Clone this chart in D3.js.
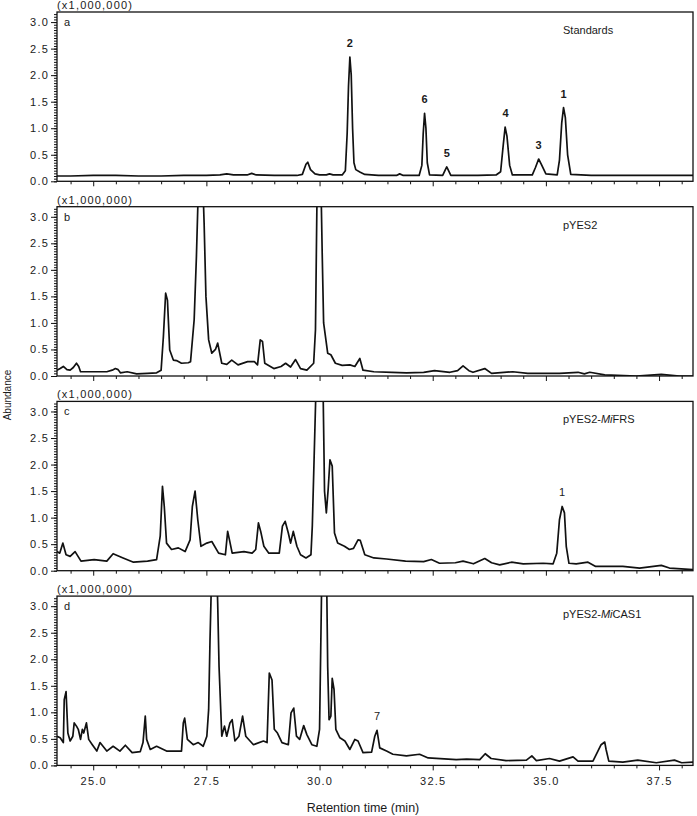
<!DOCTYPE html>
<html>
<head>
<meta charset="utf-8">
<script src="https://cdn.jsdelivr.net/npm/d3@7"></script>
<style>
  body { margin: 0; background: #fff; }
  svg text { font-family: "Liberation Sans", Arial, sans-serif; fill: #1a1a1a; }
  .tick line { stroke: #111; }
  .num text, text.num { letter-spacing: 1.2px; }
</style>
</head>
<body>
<div id="chart"></div>
<script>
// retention time (min) / abundance (x1,000,000)
var timeA = [24.2, 24.5, 25.0, 25.5, 26.0, 26.5, 27.0, 27.5, 27.8, 27.95, 28.1, 28.4, 28.5, 28.6, 29.0, 29.5,
  29.62, 29.7, 29.74, 29.8, 29.9, 30.0, 30.15, 30.22, 30.3, 30.5, 30.57, 30.61, 30.64, 30.67, 30.7, 30.73,
  30.76, 30.8, 30.9, 31.0, 31.3, 31.7, 31.77, 31.85, 32.2, 32.26, 32.29, 32.32, 32.35, 32.38, 32.43, 32.72,
  32.78, 32.81, 32.85, 32.9, 33.5, 33.9, 34.0, 34.06, 34.1, 34.14, 34.2, 34.26, 34.7, 34.77, 34.84, 34.9,
  35.0, 35.25, 35.3, 35.35, 35.39, 35.43, 35.48, 35.55, 36.0, 36.5, 37.0, 37.5, 38.0, 38.25];
var valueA = [0.10, 0.10, 0.11, 0.11, 0.10, 0.10, 0.11, 0.11, 0.12, 0.14, 0.12, 0.12, 0.15, 0.12, 0.11, 0.11,
  0.13, 0.32, 0.36, 0.22, 0.14, 0.12, 0.12, 0.14, 0.12, 0.12, 0.20, 0.90, 1.80, 2.34, 2.00, 1.00,
  0.35, 0.22, 0.17, 0.13, 0.11, 0.11, 0.14, 0.11, 0.11, 0.30, 0.90, 1.28, 1.00, 0.35, 0.12, 0.11,
  0.22, 0.27, 0.20, 0.11, 0.11, 0.12, 0.18, 0.70, 1.02, 0.85, 0.30, 0.12, 0.12, 0.26, 0.42, 0.32,
  0.14, 0.12, 0.40, 1.10, 1.39, 1.20, 0.50, 0.13, 0.11, 0.11, 0.11, 0.11, 0.11, 0.11];

var timeB = [24.2, 24.27, 24.34, 24.42, 24.49, 24.56, 24.63, 24.68, 24.72, 24.9, 25.08, 25.3, 25.42, 25.49, 25.55,
  25.6, 25.75, 25.96, 26.2, 26.4, 26.5, 26.55, 26.6, 26.64, 26.69, 26.77, 26.84, 26.95, 27.1, 27.15, 27.23,
  27.28, 27.37, 27.45, 27.49, 27.55, 27.62, 27.7, 27.75, 27.84, 27.95, 28.06, 28.2, 28.41, 28.56, 28.63,
  28.69, 28.74, 28.79, 28.99, 29.15, 29.25, 29.36, 29.47, 29.58, 29.72, 29.87, 29.91, 29.94, 29.985, 30.04,
  30.06, 30.09, 30.18, 30.25, 30.35, 30.5, 30.67, 30.78, 30.89, 30.96, 31.2, 31.6, 31.92, 32.3, 32.54,
  32.88, 33.05, 33.17, 33.3, 33.39, 33.65, 33.8, 34.27, 34.6, 35.3, 35.71, 35.85, 35.97, 36.3, 37.0,
  37.55, 37.95, 38.25];
var valueB = [0.11, 0.14, 0.18, 0.12, 0.11, 0.16, 0.24, 0.18, 0.08, 0.08, 0.08, 0.08, 0.11, 0.14, 0.12,
  0.06, 0.08, 0.04, 0.05, 0.06, 0.11, 0.74, 1.56, 1.43, 0.49, 0.30, 0.29, 0.24, 0.25, 0.27, 1.06,
  2.25, 5.0, 2.88, 1.50, 0.68, 0.43, 0.50, 0.62, 0.24, 0.22, 0.30, 0.21, 0.27, 0.27, 0.21,
  0.68, 0.65, 0.24, 0.14, 0.18, 0.24, 0.17, 0.31, 0.14, 0.11, 0.24, 0.87, 3.1, 5.2, 3.2,
  2.25, 1.00, 0.43, 0.40, 0.24, 0.20, 0.21, 0.18, 0.33, 0.11, 0.08, 0.07, 0.06, 0.07, 0.10,
  0.07, 0.10, 0.19, 0.10, 0.07, 0.14, 0.05, 0.08, 0.05, 0.05, 0.07, 0.04, 0.07, 0.02, 0.00,
  0.03, 0.00, 0.00];

var timeC = [24.2, 24.26, 24.33, 24.4, 24.49, 24.6, 24.73, 25.02, 25.3, 25.44, 25.66, 25.89, 26.2, 26.4, 26.48,
  26.53, 26.57, 26.62, 26.73, 26.88, 27.03, 27.14, 27.19, 27.25, 27.31, 27.38, 27.51, 27.62, 27.77, 27.92,
  27.97, 28.01, 28.07, 28.33, 28.51, 28.59, 28.65, 28.7, 28.77, 28.88, 29.11, 29.18, 29.24, 29.31, 29.36,
  29.42, 29.5, 29.58, 29.7, 29.81, 29.84, 29.88, 29.92, 30.0, 30.08, 30.11, 30.15, 30.19, 30.23, 30.28,
  30.33, 30.4, 30.55, 30.66, 30.75, 30.85, 30.9, 31.0, 31.2, 31.48, 31.9, 32.3, 32.47, 32.65, 33.0,
  33.17, 33.4, 33.65, 33.8, 33.98, 34.24, 34.5, 34.94, 35.16, 35.24, 35.3, 35.36, 35.41, 35.45, 35.51,
  35.67, 35.93, 36.1, 36.7, 37.07, 37.55, 37.73, 38.25];
var valueC = [0.36, 0.33, 0.52, 0.30, 0.27, 0.36, 0.18, 0.21, 0.18, 0.32, 0.24, 0.16, 0.18, 0.21, 0.65,
  1.59, 1.21, 0.52, 0.40, 0.43, 0.36, 0.58, 1.21, 1.50, 0.96, 0.46, 0.52, 0.55, 0.33, 0.30,
  0.74, 0.58, 0.33, 0.36, 0.33, 0.40, 0.90, 0.74, 0.46, 0.33, 0.33, 0.84, 0.93, 0.71, 0.52,
  0.74, 0.46, 0.30, 0.24, 0.30, 0.84, 2.12, 3.4, 6.0, 3.3, 1.50, 1.09, 1.53, 2.09, 1.97,
  0.71, 0.52, 0.46, 0.40, 0.42, 0.58, 0.57, 0.30, 0.24, 0.22, 0.18, 0.17, 0.21, 0.14, 0.15,
  0.18, 0.13, 0.23, 0.15, 0.11, 0.16, 0.13, 0.14, 0.13, 0.33, 0.96, 1.21, 1.09, 0.46, 0.14,
  0.13, 0.16, 0.08, 0.08, 0.05, 0.10, 0.05, 0.02];

var timeD = [24.2, 24.27, 24.34, 24.36, 24.4, 24.44, 24.49, 24.55, 24.58, 24.63, 24.67, 24.72, 24.76, 24.79,
  24.85, 24.9, 24.98, 25.08, 25.15, 25.3, 25.44, 25.59, 25.71, 25.86, 26.04, 26.1, 26.15, 26.18, 26.26,
  26.4, 26.62, 26.95, 26.99, 27.02, 27.08, 27.21, 27.32, 27.43, 27.51, 27.55, 27.58, 27.67, 27.75, 27.78,
  27.84, 27.9, 27.95, 28.02, 28.07, 28.13, 28.22, 28.3, 28.37, 28.54, 28.76, 28.84, 28.89, 28.95, 29.0,
  29.07, 29.17, 29.31, 29.37, 29.43, 29.49, 29.56, 29.65, 29.72, 29.83, 29.94, 30.0, 30.03, 30.09, 30.16,
  30.18, 30.21, 30.25, 30.28, 30.32, 30.36, 30.45, 30.56, 30.67, 30.78, 30.85, 30.96, 31.15, 31.22, 31.27,
  31.33, 31.48, 31.62, 31.92, 32.21, 32.4, 33.02, 33.25, 33.54, 33.66, 33.79, 34.12, 34.57, 34.69, 34.79,
  35.08, 35.3, 35.6, 35.71, 36.04, 36.22, 36.3, 36.33, 36.39, 36.7, 37.03, 37.44, 37.84, 38.0, 38.25];
var valueD = [0.55, 0.52, 0.43, 1.24, 1.39, 0.61, 0.46, 0.55, 0.80, 0.74, 0.68, 0.49, 0.68, 0.61,
  0.80, 0.49, 0.39, 0.27, 0.43, 0.27, 0.36, 0.27, 0.38, 0.24, 0.26, 0.43, 0.93, 0.49, 0.30,
  0.36, 0.27, 0.27, 0.80, 0.89, 0.49, 0.39, 0.43, 0.36, 0.55, 1.05, 2.36, 5.5, 3.05, 1.86,
  0.55, 0.74, 0.55, 0.80, 0.86, 0.46, 0.55, 0.93, 0.55, 0.39, 0.46, 0.43, 1.74, 1.61, 0.68,
  0.61, 0.43, 0.39, 0.99, 1.08, 0.55, 0.49, 0.75, 0.58, 0.39, 0.36, 0.68, 2.43, 6.0, 3.3,
  1.86, 0.86, 0.93, 1.64, 1.43, 0.68, 0.52, 0.46, 0.30, 0.49, 0.46, 0.24, 0.25, 0.55, 0.66,
  0.33, 0.27, 0.21, 0.18, 0.21, 0.14, 0.11, 0.12, 0.11, 0.22, 0.13, 0.09, 0.10, 0.18, 0.09,
  0.13, 0.08, 0.16, 0.08, 0.08, 0.39, 0.44, 0.30, 0.08, 0.06, 0.10, 0.05, 0.10, 0.05, 0.06];

// numbered peaks (compound labels)
var peakLabelsA = ['2', '6', '5', '4', '3', '1'];
var peakTimesA = [30.67, 32.32, 32.81, 34.11, 34.84, 35.39];
var peakHeightsA = [2.34, 1.28, 0.27, 1.02, 0.42, 1.39];
var peakLabelsC = ['1'];
var peakTimesC = [35.36];
var peakHeightsC = [1.21];
var peakLabelsD = ['7'];
var peakTimesD = [31.27];
var peakHeightsD = [0.66];

var panelLetters = ['a', 'b', 'c', 'd'];
var sampleNames = [['Standards'], ['pYES2'], ['pYES2-', 'Mi', 'FRS'], ['pYES2-', 'Mi', 'CAS1']];
var xMajorTicks = [25.0, 27.5, 30.0, 32.5, 35.0, 37.5];
var yMajorTicks = [0.0, 0.5, 1.0, 1.5, 2.0, 2.5, 3.0];

var panels = [
  {time: timeA, value: valueA, labels: peakLabelsA, lt: peakTimesA, lv: peakHeightsA, bold: true},
  {time: timeB, value: valueB, labels: [], lt: [], lv: [], bold: false},
  {time: timeC, value: valueC, labels: peakLabelsC, lt: peakTimesC, lv: peakHeightsC, bold: false},
  {time: timeD, value: valueD, labels: peakLabelsD, lt: peakTimesD, lv: peakHeightsD, bold: false}
];

var width = 697, height = 816;
var left = 57, right = 693;
var panelTop = 12, panelStep = 194.7, plotH = 169.3;

var svg = d3.select('#chart').append('svg')
  .attr('width', width)
  .attr('height', height);

var x = d3.scaleLinear().domain([24.2, 38.25]).range([left, right]);
var xMinorTicks = d3.range(24.5, 38.1, 0.5).filter(function(t) {
  return xMajorTicks.indexOf(t) < 0;
});
var yMinorTicks = d3.range(0, 3.16, 0.05);

panels.forEach(function(p, i) {
  var top = panelTop + i * panelStep;
  var y = d3.scaleLinear().domain([0, 3.19]).range([top + plotH, top]);
  var g = svg.append('g');

  g.append('clipPath').attr('id', 'clip' + i)
    .append('rect')
    .attr('x', left).attr('y', top)
    .attr('width', right - left).attr('height', plotH);

  // axes
  g.append('g').attr('class', 'num')
    .attr('transform', 'translate(0,' + (top + plotH) + ')')
    .call(d3.axisBottom(x).tickValues(xMinorTicks).tickSize(3).tickFormat(''))
    .call(function(a) { a.select('.domain').remove(); });
  g.append('g').attr('class', 'num')
    .attr('transform', 'translate(0,' + (top + plotH) + ')')
    .call(d3.axisBottom(x).tickValues(xMajorTicks).tickSize(5).tickPadding(7)
      .tickFormat(i === 3 ? d3.format('.1f') : ''))
    .call(function(a) {
      a.select('.domain').remove();
      a.selectAll('text').style('font-size', '11px').style('fill', '#1a1a1a');
    });
  g.append('g').attr('class', 'num')
    .attr('transform', 'translate(' + left + ',0)')
    .call(d3.axisLeft(y).tickValues(yMinorTicks).tickSize(3).tickFormat(''))
    .call(function(a) { a.select('.domain').remove(); });
  g.append('g').attr('class', 'num')
    .attr('transform', 'translate(' + left + ',0)')
    .call(d3.axisLeft(y).tickValues(yMajorTicks).tickSize(6).tickPadding(2)
      .tickFormat(d3.format('.1f')))
    .call(function(a) {
      a.select('.domain').remove();
      a.selectAll('text').style('font-size', '11px').style('fill', '#1a1a1a');
    });

  // trace
  var line = d3.line()
    .x(function(d) { return x(d[0]); })
    .y(function(d) { return y(d[1]); });
  g.append('path')
    .datum(d3.zip(p.time, p.value))
    .attr('clip-path', 'url(#clip' + i + ')')
    .attr('fill', 'none')
    .attr('stroke', '#111')
    .attr('stroke-width', 1.7)
    .attr('stroke-linejoin', 'round')
    .attr('d', line);

  // frame
  g.append('rect')
    .attr('x', left).attr('y', top)
    .attr('width', right - left).attr('height', plotH)
    .attr('fill', 'none')
    .attr('stroke', '#111')
    .attr('stroke-width', 1.3);

  g.append('text').attr('class', 'num')
    .attr('x', left).attr('y', top - 3)
    .style('font-size', '11px')
    .text('(x1,000,000)');

  g.append('text')
    .attr('x', left + 7).attr('y', top + 14)
    .style('font-size', '11px')
    .text(panelLetters[i]);

  var name = g.append('text')
    .attr('x', 563).attr('y', top + 22)
    .style('font-size', '11px');
  sampleNames[i].forEach(function(s, k) {
    name.append('tspan')
      .style('font-style', k === 1 ? 'italic' : 'normal')
      .text(s);
  });

  g.selectAll('.peak')
    .data(p.labels)
    .enter().append('text')
    .attr('class', 'peak')
    .attr('x', function(d, k) { return x(p.lt[k]); })
    .attr('y', function(d, k) { return y(p.lv[k]) - 10; })
    .attr('text-anchor', 'middle')
    .style('font-size', '11px')
    .style('fill', '#1a1a1a')
    .style('font-weight', p.bold ? 'bold' : 'normal')
    .text(function(d) { return d; });
});

svg.append('text')
  .attr('transform', 'translate(11,395) rotate(-90)')
  .attr('text-anchor', 'middle')
  .style('font-size', '10px')
  .text('Abundance');

svg.append('text')
  .attr('x', 363).attr('y', 812)
  .attr('text-anchor', 'middle')
  .style('font-size', '12.5px')
  .text('Retention time (min)');
</script>
</body>
</html>
